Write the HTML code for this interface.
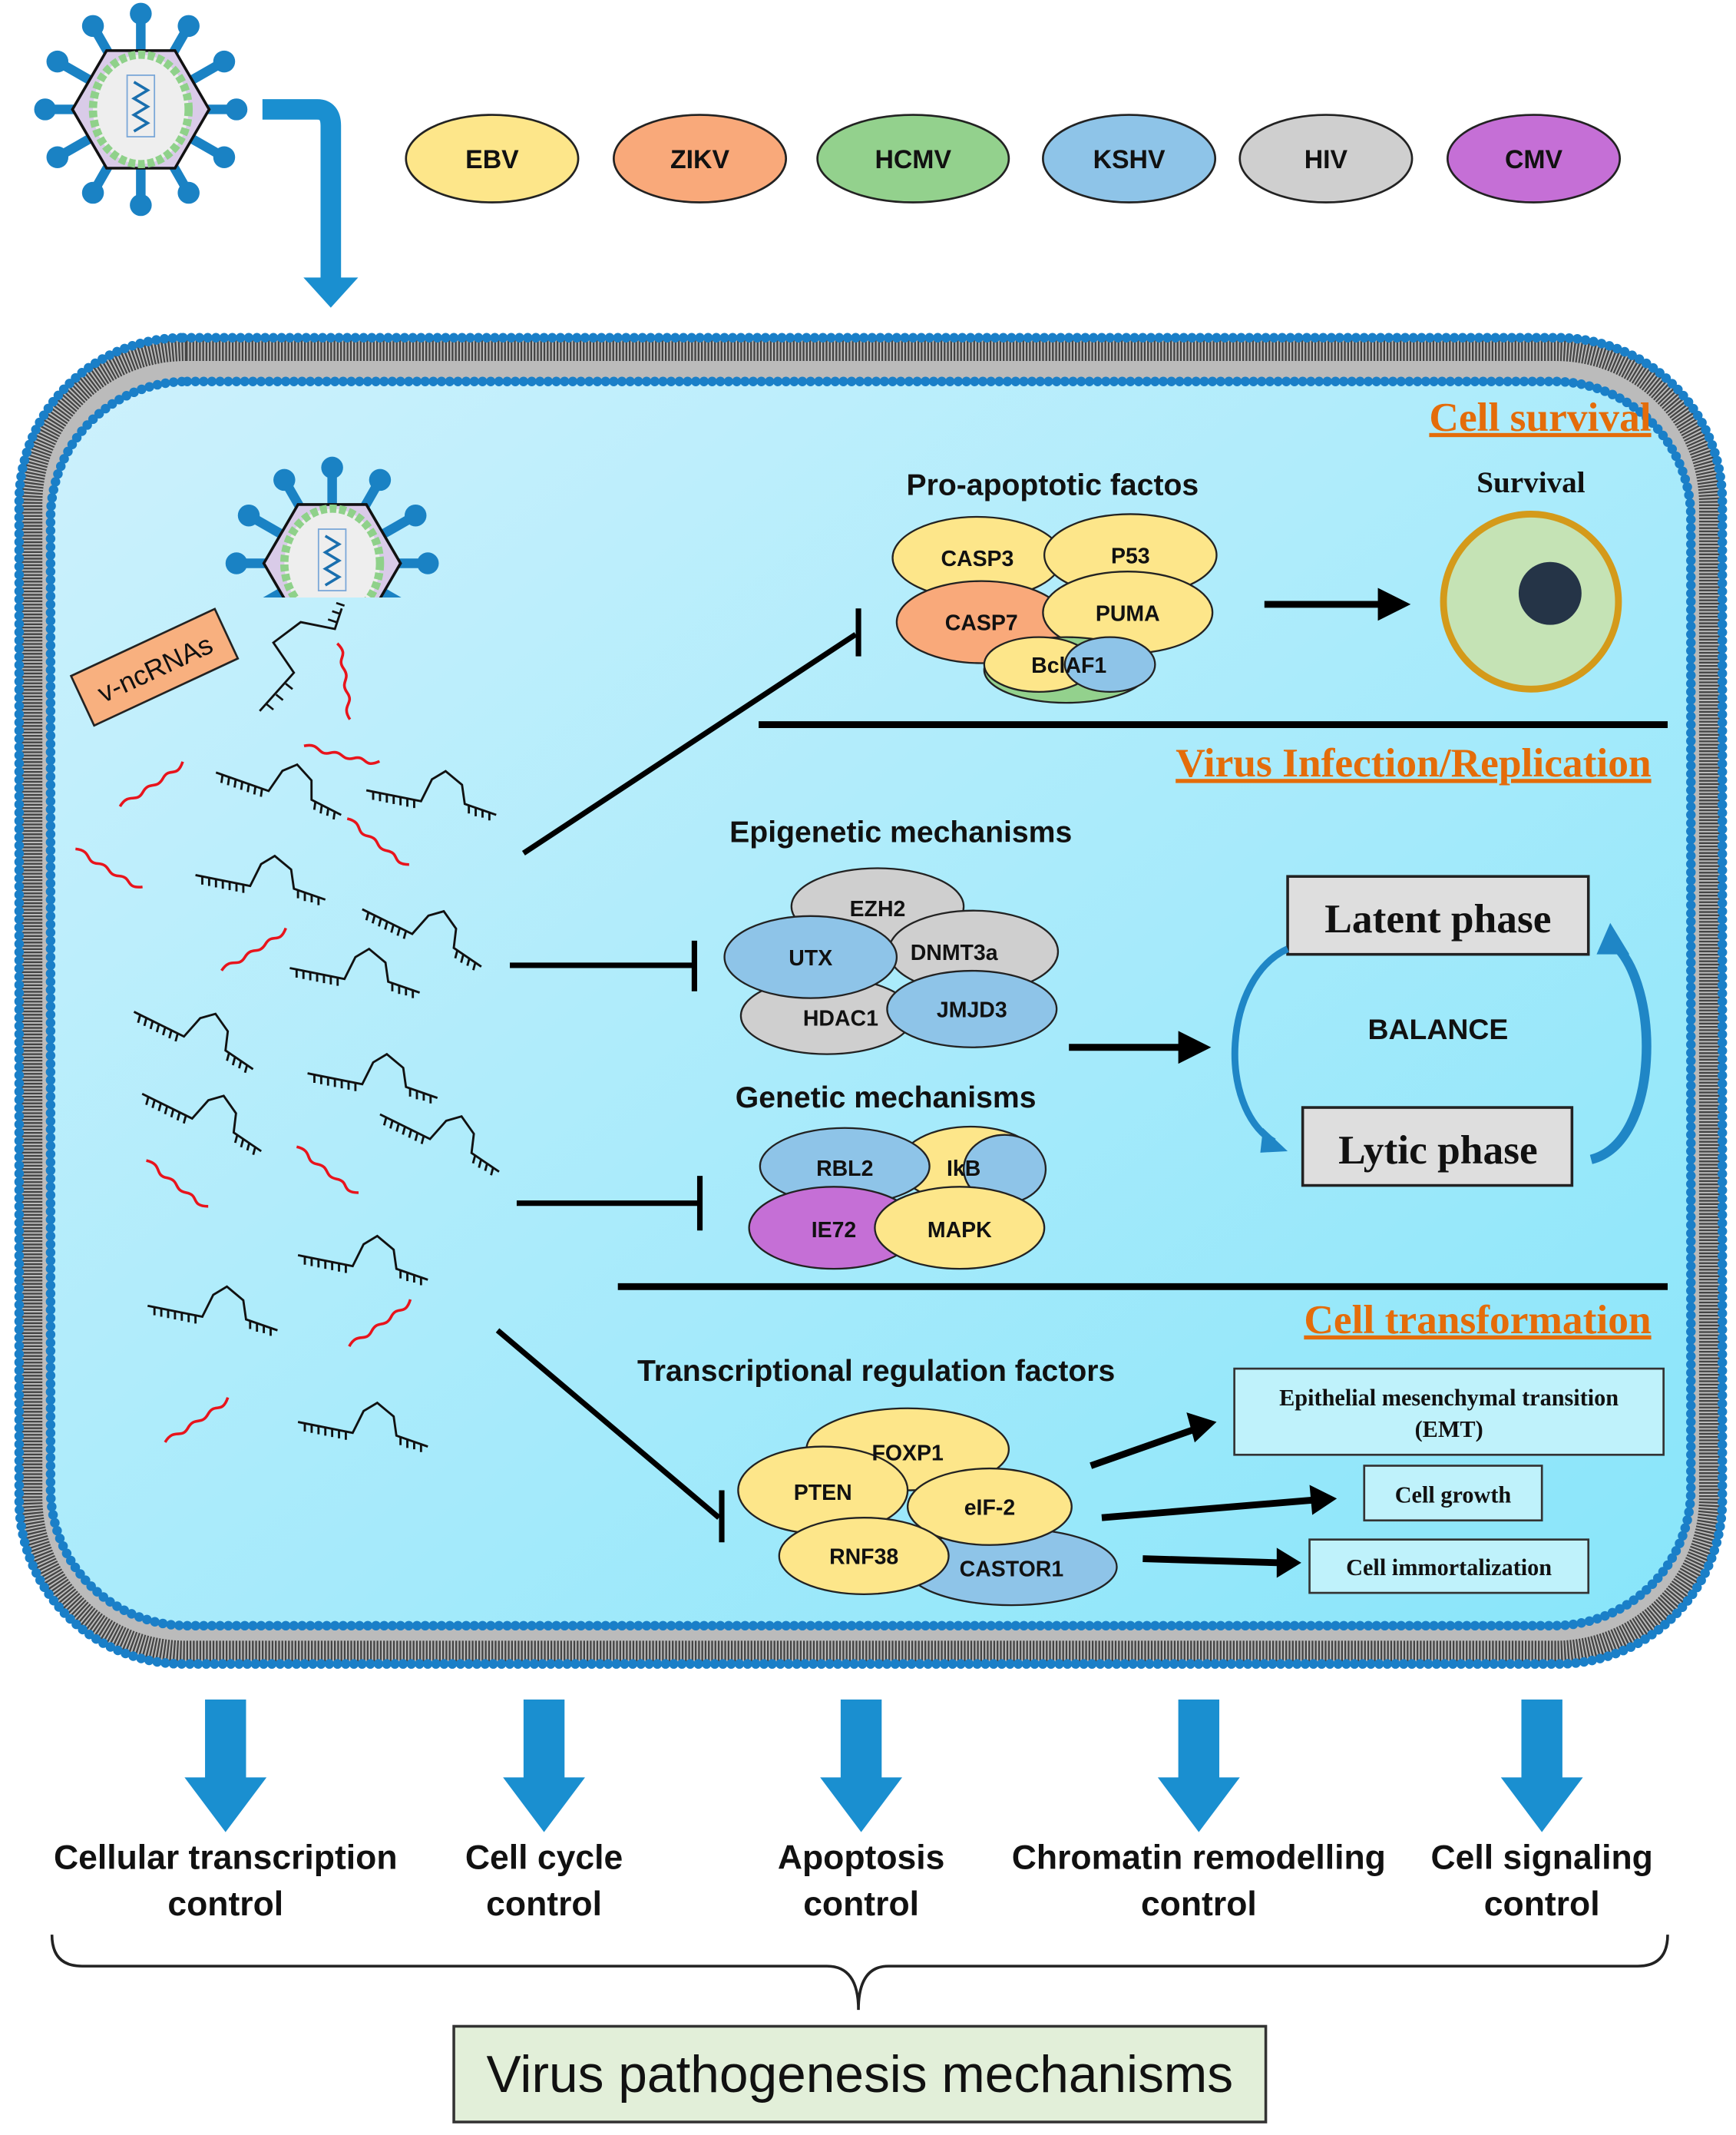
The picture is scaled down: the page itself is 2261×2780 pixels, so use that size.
<!DOCTYPE html>
<html><head><meta charset="utf-8"><style>
html,body{margin:0;padding:0;background:#fff}
svg{display:block}
.s{font-family:"Liberation Sans",sans-serif;font-weight:bold}
.r{font-family:"Liberation Serif",serif;font-weight:bold}
</style></head><body>
<svg width="2261" height="2780" viewBox="0 0 1270 1561.5" xmlns="http://www.w3.org/2000/svg">
<defs>
<linearGradient id="cg" x1="0" y1="0" x2="1" y2="1">
<stop offset="0" stop-color="#cdf1fc"/><stop offset="1" stop-color="#88e5fa"/>
</linearGradient>
<g id="virus">
<g stroke="#1a82c4" stroke-width="7" fill="#1a82c4">
<line x1="0" y1="0" x2="0" y2="-70"/><line x1="0" y1="0" x2="35" y2="-61"/><line x1="0" y1="0" x2="61" y2="-35"/><line x1="0" y1="0" x2="70" y2="0"/><line x1="0" y1="0" x2="61" y2="35"/><line x1="0" y1="0" x2="35" y2="61"/><line x1="0" y1="0" x2="0" y2="70"/><line x1="0" y1="0" x2="-35" y2="61"/><line x1="0" y1="0" x2="-61" y2="35"/><line x1="0" y1="0" x2="-70" y2="0"/><line x1="0" y1="0" x2="-61" y2="-35"/><line x1="0" y1="0" x2="-35" y2="-61"/>
</g>
<g fill="#1a82c4">
<circle cx="0" cy="-70" r="8"/><circle cx="35" cy="-61" r="8"/><circle cx="61" cy="-35" r="8"/><circle cx="70" cy="0" r="8"/><circle cx="61" cy="35" r="8"/><circle cx="35" cy="61" r="8"/><circle cx="0" cy="70" r="8"/><circle cx="-35" cy="61" r="8"/><circle cx="-61" cy="35" r="8"/><circle cx="-70" cy="0" r="8"/><circle cx="-61" cy="-35" r="8"/><circle cx="-35" cy="-61" r="8"/>
</g>
<polygon points="-25,-43 25,-43 50,0 25,43 -25,43 -50,0" fill="#d9cbe8" stroke="#111" stroke-width="2"/>
<ellipse cx="0" cy="0" rx="35" ry="40" fill="#eee" stroke="#8fd18a" stroke-width="6" stroke-dasharray="5 2"/>
<rect x="-10" y="-25" width="20" height="45" fill="none" stroke="#7aa7d8" stroke-width="1"/>
<path d="M-5,-20 L5,-14 L-5,-8 L5,-2 L-5,4 L5,10 L-5,16" fill="none" stroke="#1a6fae" stroke-width="2"/>
</g>
<g id="hp" fill="none" stroke="#111" stroke-width="1.6">
<path d="M0,0 L40,8 L48,-8 L58,-14 L70,-4 L72,10 L95,18"/>
<path d="M5,1 v6 M10,2 v6 M15,3 v6 M20,4 v6 M25,5 v6 M30,6 v6 M35,7 v6 M75,11 v6 M80,13 v6 M85,14 v6 M90,16 v6"/>
</g>
<path id="sq" d="M0,20 C8,10 12,20 18,12 C24,4 28,12 34,4 C40,-4 44,6 50,-6" fill="none" stroke="#e8141c" stroke-width="2"/>
</defs>

<use href="#virus" x="103" y="80"/>
<path d="M192,80 L232,80 Q242,80 242,92 L242,205" fill="none" stroke="#1a8fd0" stroke-width="15"/>
<polygon points="222,203 262,203 242,225" fill="#1a8fd0"/>

<g stroke="#222" stroke-width="1.5">
<ellipse cx="360" cy="116" rx="63" ry="32" fill="#fde68a"/>
<ellipse cx="512" cy="116" rx="63" ry="32" fill="#f9a97a"/>
<ellipse cx="668" cy="116" rx="70" ry="32" fill="#93d18d"/>
<ellipse cx="826" cy="116" rx="63" ry="32" fill="#8ec4e8"/>
<ellipse cx="970" cy="116" rx="63" ry="32" fill="#cfcfcf"/>
<ellipse cx="1122" cy="116" rx="63" ry="32" fill="#c56fd6"/>
</g>
<g class="s" font-size="19" text-anchor="middle" fill="#111">
<text x="360" y="123">EBV</text><text x="512" y="123">ZIKV</text><text x="668" y="123">HCMV</text><text x="826" y="123">KSHV</text><text x="970" y="123">HIV</text><text x="1122" y="123">CMV</text>
</g>

<!-- cell -->
<rect x="14" y="247" width="1246" height="970" rx="120" fill="#bbb"/>
<rect x="22" y="255" width="1230" height="954" rx="114" fill="none" stroke="#444" stroke-width="18" stroke-dasharray="1.3 1.1"/>
<rect x="14" y="247" width="1246" height="970" rx="120" fill="none" stroke="#1a7fc8" stroke-width="7" stroke-dasharray="0 6" stroke-linecap="round"/>
<rect x="37" y="279" width="1200" height="910" rx="100" fill="url(#cg)"/>
<rect x="37" y="279" width="1200" height="910" rx="100" fill="none" stroke="#1a7fc8" stroke-width="7" stroke-dasharray="0 6" stroke-linecap="round"/>

<clipPath id="vc"><rect x="150" y="320" width="200" height="117"/></clipPath>
<g clip-path="url(#vc)"><use href="#virus" x="243" y="412"/></g>

<g transform="translate(113,488) rotate(-25)">
<rect x="-58" y="-20" width="116" height="40" fill="#f8b07f" stroke="#222" stroke-width="1.5"/>
<text x="0" y="8" font-family="Liberation Sans,sans-serif" font-size="20" text-anchor="middle" fill="#111">v-ncRNAs</text>
</g>
<g>
<path d="M190,520 L215,492 L200,470 L220,455 L245,460 L250,445" fill="none" stroke="#111" stroke-width="1.6"/>
<path d="M195,515 l5,4 M202,508 l5,4 M209,500 l5,4 M240,453 l6,2 M243,447 l6,2 M246,441 l6,2" stroke="#111" stroke-width="1.5"/>
<use href="#sq" transform="translate(237,520) rotate(-72)"/>
<use href="#sq" transform="translate(85,570) rotate(-8)"/>
<use href="#sq" transform="translate(235,530) rotate(39)"/>
<use href="#sq" transform="translate(72,610) rotate(57)"/>
<use href="#sq" transform="translate(272,590) rotate(64)"/>
<use href="#sq" transform="translate(160,690) rotate(-6)"/>
<use href="#sq" transform="translate(125,840) rotate(64)"/>
<use href="#sq" transform="translate(235,830) rotate(64)"/>
<use href="#sq" transform="translate(252,965) rotate(-10)"/>
<use href="#sq" transform="translate(118,1035) rotate(-8)"/>
<use href="#hp" transform="translate(158,565) rotate(8)"/>
<use href="#hp" transform="translate(268,578)"/>
<use href="#hp" transform="translate(143,640)"/>
<use href="#hp" transform="translate(265,665) rotate(15)"/>
<use href="#hp" transform="translate(212,708)"/>
<use href="#hp" transform="translate(98,740) rotate(15)"/>
<use href="#hp" transform="translate(225,785)"/>
<use href="#hp" transform="translate(104,800) rotate(15)"/>
<use href="#hp" transform="translate(278,815) rotate(15)"/>
<use href="#hp" transform="translate(218,918)"/>
<use href="#hp" transform="translate(108,955)"/>
<use href="#hp" transform="translate(218,1040)"/>
</g>

<g class="r" fill="#e46c0a" font-size="30" text-anchor="end" text-decoration="underline">
<text x="1208" y="315">Cell survival</text>
<text x="1208" y="568">Virus Infection/Replication</text>
<text x="1208" y="975">Cell transformation</text>
</g>
<line x1="555" y1="530" x2="1220" y2="530" stroke="#000" stroke-width="5"/>
<line x1="452" y1="941" x2="1220" y2="941" stroke="#000" stroke-width="5"/>

<text x="770" y="362" class="s" font-size="22" text-anchor="middle" fill="#111">Pro-apoptotic factos</text>
<g stroke="#222" stroke-width="1.3">
<ellipse cx="715" cy="408" rx="62" ry="30" fill="#fde68a"/>
<ellipse cx="827" cy="406" rx="63" ry="30" fill="#fde68a"/>
<ellipse cx="718" cy="455" rx="62" ry="30" fill="#f9a97a"/>
<ellipse cx="825" cy="448" rx="62" ry="30" fill="#fde68a"/>
<ellipse cx="780" cy="490" rx="60" ry="24" fill="#93d18d"/>
<ellipse cx="760" cy="486" rx="40" ry="20" fill="#fde68a"/>
<ellipse cx="812" cy="486" rx="33" ry="20" fill="#8ec4e8"/>
</g>
<g class="s" font-size="16" text-anchor="middle" fill="#111">
<text x="715" y="414">CASP3</text><text x="827" y="412">P53</text><text x="718" y="461">CASP7</text><text x="825" y="454">PUMA</text><text x="782" y="492">BclAF1</text>
</g>
<line x1="925" y1="442" x2="1020" y2="442" stroke="#000" stroke-width="5"/>
<polygon points="1008,430 1032,442 1008,454" fill="#000"/>
<text x="1120" y="360" class="r" font-size="22" text-anchor="middle" fill="#111">Survival</text>
<circle cx="1120" cy="440" r="64" fill="#c5e3b5" stroke="#d49a1a" stroke-width="5"/>
<circle cx="1134" cy="434" r="23" fill="#253447"/>
<line x1="383" y1="624" x2="626" y2="464" stroke="#000" stroke-width="4"/>
<line x1="628" y1="445" x2="628" y2="480" stroke="#000" stroke-width="4"/>

<text x="659" y="616" class="s" font-size="22" text-anchor="middle" fill="#111">Epigenetic mechanisms</text>
<g stroke="#222" stroke-width="1.3">
<ellipse cx="642" cy="663" rx="63" ry="28" fill="#cfcfcf"/>
<ellipse cx="712" cy="696" rx="62" ry="30" fill="#cfcfcf"/>
<ellipse cx="605" cy="743" rx="63" ry="28" fill="#cfcfcf"/>
<ellipse cx="593" cy="700" rx="63" ry="30" fill="#8ec4e8"/>
<ellipse cx="711" cy="738" rx="62" ry="28" fill="#8ec4e8"/>
</g>
<g class="s" font-size="16" text-anchor="middle" fill="#111">
<text x="642" y="670">EZH2</text><text x="698" y="702">DNMT3a</text><text x="593" y="706">UTX</text><text x="615" y="750">HDAC1</text><text x="711" y="744">JMJD3</text>
</g>
<line x1="373" y1="706" x2="508" y2="706" stroke="#000" stroke-width="4"/>
<line x1="508" y1="688" x2="508" y2="725" stroke="#000" stroke-width="4"/>
<line x1="782" y1="766" x2="872" y2="766" stroke="#000" stroke-width="5"/>
<polygon points="862,754 886,766 862,778" fill="#000"/>

<text x="648" y="810" class="s" font-size="22" text-anchor="middle" fill="#111">Genetic mechanisms</text>
<g stroke="#222" stroke-width="1.3">
<ellipse cx="710" cy="852" rx="52" ry="28" fill="#fde68a"/>
<ellipse cx="735" cy="855" rx="30" ry="25" fill="#8ec4e8"/>
<ellipse cx="618" cy="853" rx="62" ry="28" fill="#8ec4e8"/>
<ellipse cx="610" cy="898" rx="62" ry="30" fill="#c56fd6"/>
<ellipse cx="702" cy="898" rx="62" ry="30" fill="#fde68a"/>
</g>
<g class="s" font-size="16" text-anchor="middle" fill="#111">
<text x="618" y="860">RBL2</text><text x="705" y="860">IkB</text><text x="610" y="905">IE72</text><text x="702" y="905">MAPK</text>
</g>
<line x1="378" y1="880" x2="512" y2="880" stroke="#000" stroke-width="4"/>
<line x1="512" y1="860" x2="512" y2="900" stroke="#000" stroke-width="4"/>

<rect x="942" y="641" width="220" height="57" fill="#dedede" stroke="#222" stroke-width="2"/>
<text x="1052" y="682" class="r" font-size="30" text-anchor="middle" fill="#111">Latent phase</text>
<rect x="953" y="810" width="197" height="57" fill="#dedede" stroke="#222" stroke-width="2"/>
<text x="1052" y="851" class="r" font-size="30" text-anchor="middle" fill="#111">Lytic phase</text>
<text x="1052" y="760" class="s" font-size="21" text-anchor="middle" fill="#111">BALANCE</text>
<path d="M942,694 C895,715 890,810 932,835" fill="none" stroke="#1f86c6" stroke-width="5"/>
<polygon points="924,825 942,842 922,843" fill="#1f86c6"/>
<path d="M1164,848 C1215,835 1215,720 1180,690" fill="none" stroke="#1f86c6" stroke-width="7"/>
<polygon points="1168,698 1178,675 1192,698" fill="#1f86c6"/>

<text x="641" y="1010" class="s" font-size="22" text-anchor="middle" fill="#111">Transcriptional regulation factors</text>
<g stroke="#222" stroke-width="1.3">
<ellipse cx="664" cy="1060" rx="74" ry="30" fill="#fde68a"/>
<ellipse cx="740" cy="1146" rx="77" ry="28" fill="#8ec4e8"/>
<ellipse cx="724" cy="1102" rx="60" ry="28" fill="#fde68a"/>
<ellipse cx="602" cy="1090" rx="62" ry="32" fill="#fde68a"/>
<ellipse cx="632" cy="1138" rx="62" ry="28" fill="#fde68a"/>
</g>
<g class="s" font-size="16" text-anchor="middle" fill="#111">
<text x="664" y="1068">FOXP1</text><text x="602" y="1097">PTEN</text><text x="724" y="1108">eIF-2</text><text x="632" y="1144">RNF38</text><text x="740" y="1153">CASTOR1</text>
</g>
<line x1="364" y1="973" x2="526" y2="1110" stroke="#000" stroke-width="4"/>
<line x1="528" y1="1090" x2="528" y2="1128" stroke="#000" stroke-width="4"/>
<g stroke="#000" stroke-width="5">
<line x1="798" y1="1072" x2="875" y2="1045"/>
<line x1="806" y1="1110" x2="962" y2="1097"/>
<line x1="836" y1="1140" x2="937" y2="1143"/>
</g>
<polygon points="868,1033 890,1040 874,1055" fill="#000"/>
<polygon points="958,1086 978,1096 960,1108" fill="#000"/>
<polygon points="934,1132 952,1143 934,1154" fill="#000"/>
<g stroke="#333" stroke-width="1.5" fill="#bff2fb">
<rect x="903" y="1001" width="314" height="63"/>
<rect x="998" y="1072" width="130" height="40"/>
<rect x="958" y="1126" width="204" height="39"/>
</g>
<g class="r" font-size="17" text-anchor="middle" fill="#111">
<text x="1060" y="1028">Epithelial mesenchymal transition</text>
<text x="1060" y="1051">(EMT)</text>
<text x="1063" y="1099">Cell growth</text>
<text x="1060" y="1152">Cell immortalization</text>
</g>

<g fill="#1a8fd0">
<rect x="150" y="1243" width="30" height="60"/><polygon points="135,1300 195,1300 165,1340"/>
<rect x="383" y="1243" width="30" height="60"/><polygon points="368,1300 428,1300 398,1340"/>
<rect x="615" y="1243" width="30" height="60"/><polygon points="600,1300 660,1300 630,1340"/>
<rect x="862" y="1243" width="30" height="60"/><polygon points="847,1300 907,1300 877,1340"/>
<rect x="1113" y="1243" width="30" height="60"/><polygon points="1098,1300 1158,1300 1128,1340"/>
</g>
<g class="s" font-size="25" text-anchor="middle" fill="#111">
<text x="165" y="1367">Cellular transcription</text><text x="165" y="1401">control</text>
<text x="398" y="1367">Cell cycle</text><text x="398" y="1401">control</text>
<text x="630" y="1367">Apoptosis</text><text x="630" y="1401">control</text>
<text x="877" y="1367">Chromatin remodelling</text><text x="877" y="1401">control</text>
<text x="1128" y="1367">Cell signaling</text><text x="1128" y="1401">control</text>
</g>
<path d="M38,1415 Q38,1438 60,1438 L605,1438 Q628,1438 628,1470 Q628,1438 650,1438 L1198,1438 Q1220,1438 1220,1415" fill="none" stroke="#222" stroke-width="2"/>
<rect x="332" y="1482" width="594" height="70" fill="#e2efd9" stroke="#333" stroke-width="2"/>
<text x="629" y="1530" font-family="Liberation Sans,sans-serif" font-size="38" text-anchor="middle" fill="#111">Virus pathogenesis mechanisms</text>
</svg>
</body></html>
